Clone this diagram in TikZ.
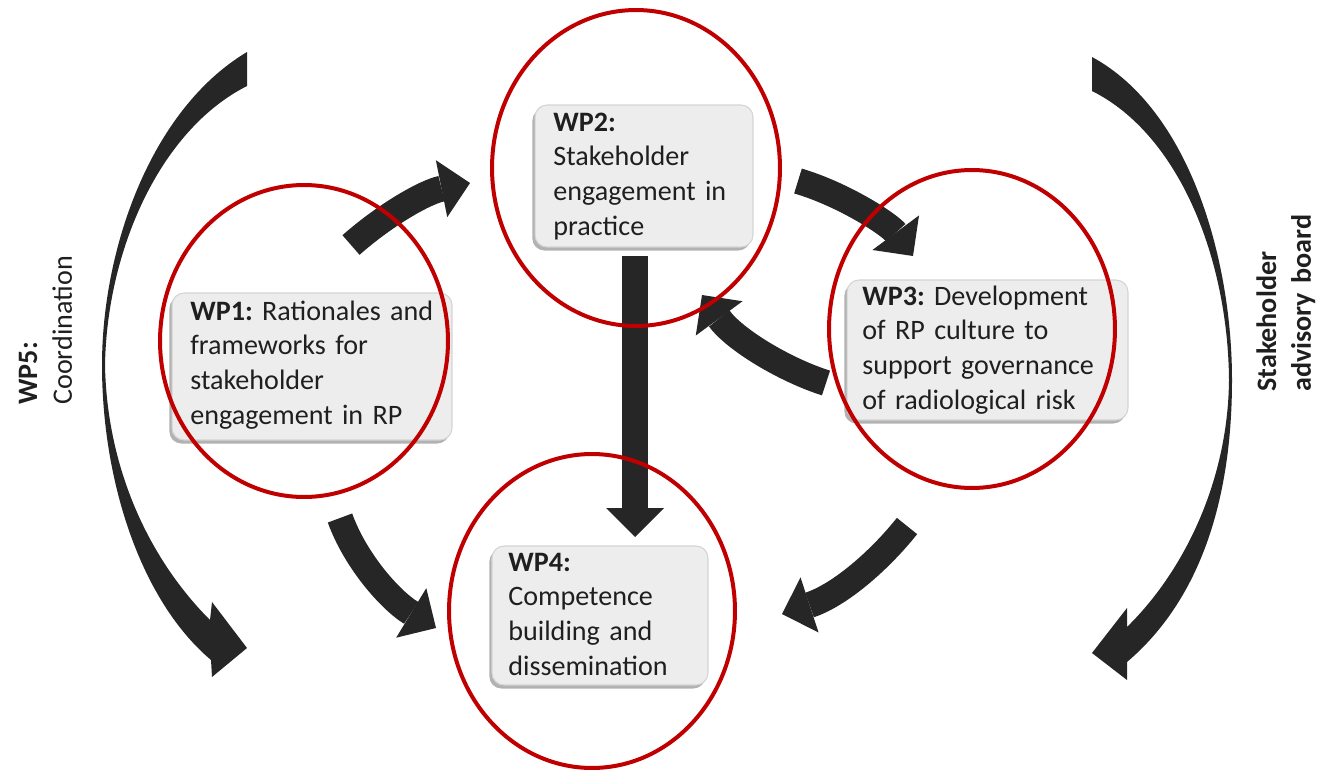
\documentclass[tikz,border=0pt]{standalone}
\usepackage{fontspec}
\setmainfont{Carlito}
\frenchspacing
\usetikzlibrary{arrows.meta,shapes.geometric,shadows}
\definecolor{wpred}{HTML}{C00000}
\definecolor{arrowc}{HTML}{262626}
\definecolor{boxfill}{HTML}{EDEDED}
\definecolor{boxline}{HTML}{D4D4D4}
\begin{document}
\begin{tikzpicture}[x=0.02cm,y=-0.02cm,
  wpbox/.style={draw=boxline, line width=0.6pt, fill=boxfill, rounded corners=0.24cm, inner sep=0pt,
    drop shadow={shadow xshift=-1.5pt, shadow yshift=-2pt, opacity=0.3, fill=black}},
  wpell/.style={ellipse, draw=wpred, line width=0.08cm, inner sep=0pt},
  wptext/.style={anchor=base west, inner sep=0pt, text width=6cm, align=left,
    font=\fontsize{16}{19.9}\selectfont, text=black!88},
  sidetext/.style={rotate=90, anchor=base west, inner sep=0pt, text width=4.5cm, align=left,
    font=\fontsize{16}{19.9}\selectfont, text=black!88},
  blk/.style={draw=arrowc, line width=0.52cm, -{Triangle[length=0.58cm,width=1.16cm,line width=0pt]}},
  crescent/.style={fill=arrowc}
]
\useasboundingbox (0,0) rectangle (1322,774);

% big side arrows
\fill[crescent] (247,52) .. controls (150,110) and (102,250) .. (102,365)
  .. controls (102,480) and (140,600) .. (211,660) -- (212,677) -- (247,648) -- (212,602) -- (210,620)
  .. controls (150,560) and (107,470) .. (105,365)
  .. controls (107,250) and (160,130) .. (247,86) -- cycle;
\fill[crescent] (1092,57) .. controls (1190,110) and (1232,260) .. (1232,380)
  .. controls (1232,500) and (1200,600) .. (1127,662) -- (1127,680) -- (1092,653) -- (1127,608) -- (1127,627)
  .. controls (1185,570) and (1228,480) .. (1229,380)
  .. controls (1228,260) and (1180,135) .. (1092,91) -- cycle;

% arrow end points
\coordinate (a12s) at (351,245); \coordinate (a12e) at (470,183);
\coordinate (a23s) at (798,181); \coordinate (a23e) at (913,256);
\coordinate (a32s) at (826,383); \coordinate (a32e) at (702,295);
\coordinate (a24s) at (635,256); \coordinate (a24e) at (635,537);
\coordinate (a14s) at (340,518); \coordinate (a14e) at (436,628);
\coordinate (a34s) at (907,526); \coordinate (a34e) at (782,614);

\draw[blk] (a12s) .. controls (385,215) and (425,192) .. (a12e);
\draw[blk] (a23s) .. controls (845,195) and (890,225) .. (a23e);
\draw[blk] (a32s) .. controls (785,370) and (735,340) .. (a32e);
\draw[blk] (a24s) -- (a24e);
\draw[blk] (a14s) .. controls (355,560) and (390,600) .. (a14e);
\draw[blk] (a34s) .. controls (880,560) and (840,595) .. (a34e);

% boxes
\node[wpbox, minimum width=5.6cm, minimum height=2.94cm] (b1) at (312,366.5) {};
\node[wpbox, minimum width=4.36cm, minimum height=2.84cm] (b2) at (644,176) {};
\node[wpbox, minimum width=5.62cm, minimum height=2.8cm] (b3) at (987.5,350) {};
\node[wpbox, minimum width=4.32cm, minimum height=2.78cm] (b4) at (600,615.5) {};

\node[wptext] (t1) at (190,320) {\textbf{WP1:} Rationales and\\frameworks for\\stakeholder\\engagement in RP};
\node[wptext] (t2) at (553,131) {\textbf{WP2:}\\Stakeholder\\engagement in\\practice};
\node[wptext] (t3) at (862,305) {\textbf{WP3:} Development\\of RP culture to\\support governance\\of radiological risk};
\node[wptext] (t4) at (508,571) {\textbf{WP4:}\\Competence\\building and\\dissemination};

% side labels
\node[sidetext] (t5) at (37,405) {\textbf{WP5:}\\Coordination};
\node[sidetext] (t6) at (1276,392) {\textbf{Stakeholder}\\\textbf{advisory board}};

% red ellipses
\node[wpell, minimum width=5.76cm, minimum height=6.24cm] (e1) at (304,341) {};
\node[wpell, minimum width=5.76cm, minimum height=6.32cm] (e2) at (636,168) {};
\node[wpell, minimum width=5.72cm, minimum height=6.36cm] (e3) at (972,329) {};
\node[wpell, minimum width=5.72cm, minimum height=6.28cm] (e4) at (592,611) {};
\end{tikzpicture}
\end{document}
